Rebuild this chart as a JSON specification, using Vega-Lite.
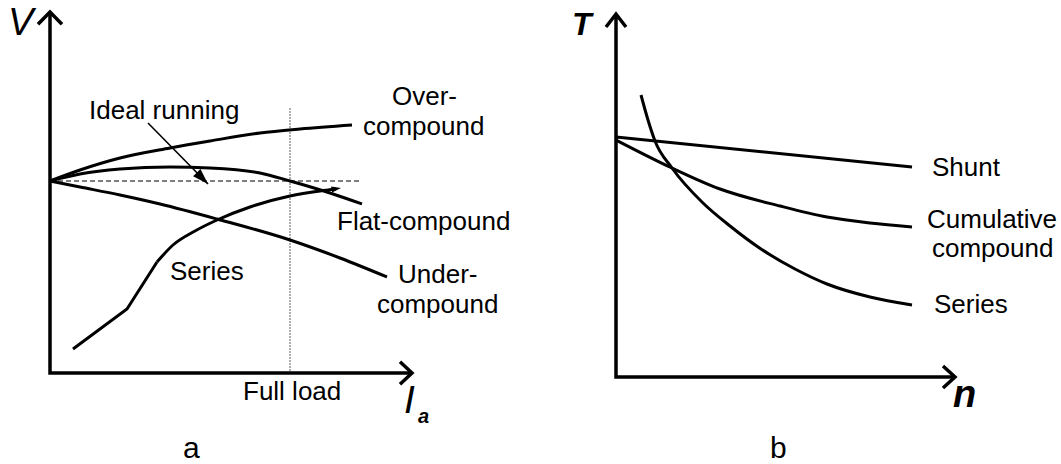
{
  "$schema": "https://vega.github.io/schema/vega-lite/v6.json",
  "background": "white",
  "padding": 0,
  "spacing": 0,
  "config": {"view": {"stroke": null}, "font": "Liberation Sans"},
  "datasets": {
    "aLines": [
      {"p": "vAxis", "i": 0, "x": 0, "y": 9.025},
      {"p": "vAxis", "i": 1, "x": 0, "y": 0},
      {"p": "vAxis", "i": 2, "x": 9.05, "y": 0},
      {"p": "vHead", "i": 0, "x": -0.3, "y": 8.72},
      {"p": "vHead", "i": 1, "x": 0, "y": 9.025},
      {"p": "vHead", "i": 2, "x": 0.3, "y": 8.72},
      {"p": "iHead", "i": 0, "x": 8.75, "y": 0.28},
      {"p": "iHead", "i": 1, "x": 9.05, "y": 0},
      {"p": "iHead", "i": 2, "x": 8.75, "y": -0.28},
      {"p": "fullLoad", "i": 0, "x": 6.0, "y": 6.625},
      {"p": "fullLoad", "i": 1, "x": 6.0, "y": 0},
      {"p": "ideal", "i": 0, "x": 0, "y": 4.8},
      {"p": "ideal", "i": 1, "x": 7.8, "y": 4.8},
      {"p": "pointer", "i": 0, "x": 2.45, "y": 6.25},
      {"p": "pointer", "i": 1, "x": 3.95, "y": 4.725},
      {"p": "over", "i": 0, "x": 0, "y": 4.8},
      {"p": "over", "i": 1, "x": 0.75, "y": 5.075},
      {"p": "over", "i": 2, "x": 1.75, "y": 5.375},
      {"p": "over", "i": 3, "x": 3.0, "y": 5.625},
      {"p": "over", "i": 4, "x": 4.0, "y": 5.8},
      {"p": "over", "i": 5, "x": 5.25, "y": 6.0},
      {"p": "over", "i": 6, "x": 6.25, "y": 6.1},
      {"p": "over", "i": 7, "x": 7.55, "y": 6.2},
      {"p": "flat", "i": 0, "x": 0, "y": 4.8},
      {"p": "flat", "i": 1, "x": 0.75, "y": 4.975},
      {"p": "flat", "i": 2, "x": 1.75, "y": 5.1},
      {"p": "flat", "i": 3, "x": 3.0, "y": 5.15},
      {"p": "flat", "i": 4, "x": 4.0, "y": 5.125},
      {"p": "flat", "i": 5, "x": 5.25, "y": 5.0},
      {"p": "flat", "i": 6, "x": 6.0, "y": 4.8},
      {"p": "flat", "i": 7, "x": 7.0, "y": 4.5},
      {"p": "flat", "i": 8, "x": 7.8, "y": 4.225},
      {"p": "under", "i": 0, "x": 0, "y": 4.8},
      {"p": "under", "i": 1, "x": 0.75, "y": 4.65},
      {"p": "under", "i": 2, "x": 1.75, "y": 4.45},
      {"p": "under", "i": 3, "x": 2.75, "y": 4.225},
      {"p": "under", "i": 4, "x": 4.175, "y": 3.85},
      {"p": "under", "i": 5, "x": 6.0, "y": 3.325},
      {"p": "under", "i": 6, "x": 7.25, "y": 2.875},
      {"p": "under", "i": 7, "x": 8.425, "y": 2.4},
      {"p": "seriesLow", "i": 0, "x": 0.575, "y": 0.6},
      {"p": "seriesLow", "i": 1, "x": 1.925, "y": 1.6},
      {"p": "seriesLow", "i": 2, "x": 2.675, "y": 2.775},
      {"p": "seriesHigh", "i": 0, "x": 2.675, "y": 2.775},
      {"p": "seriesHigh", "i": 1, "x": 3.075, "y": 3.2},
      {"p": "seriesHigh", "i": 2, "x": 3.625, "y": 3.55},
      {"p": "seriesHigh", "i": 3, "x": 4.175, "y": 3.825},
      {"p": "seriesHigh", "i": 4, "x": 5.0, "y": 4.15},
      {"p": "seriesHigh", "i": 5, "x": 6.0, "y": 4.425},
      {"p": "seriesHigh", "i": 6, "x": 6.75, "y": 4.55},
      {"p": "seriesHigh", "i": 7, "x": 7.15, "y": 4.6}
    ],
    "aHeads": [
      {"p": "pointerTip", "x": 3.95, "y": 4.725},
      {"p": "seriesTip", "x": 7.275, "y": 4.625}
    ],
    "aText": [
      {"t": "Ideal running", "x": 0.975, "y": 6.35},
      {"t": "Over-", "x": 8.55, "y": 6.7},
      {"t": "compound", "x": 7.825, "y": 5.95},
      {"t": "Flat-compound", "x": 7.175, "y": 3.575},
      {"t": "Under-", "x": 8.7, "y": 2.25},
      {"t": "compound", "x": 8.175, "y": 1.5},
      {"t": "Series", "x": 3.0, "y": 2.325},
      {"t": "Full load", "x": 4.825, "y": -0.675}
    ],
    "bLines": [
      {"p": "tAxis", "i": 0, "x": 0, "y": 9.075},
      {"p": "tAxis", "i": 1, "x": 0, "y": 0},
      {"p": "tAxis", "i": 2, "x": 8.475, "y": 0},
      {"p": "tHead", "i": 0, "x": -0.25, "y": 8.75},
      {"p": "tHead", "i": 1, "x": 0, "y": 9.075},
      {"p": "tHead", "i": 2, "x": 0.25, "y": 8.75},
      {"p": "nHead", "i": 0, "x": 8.175, "y": 0.275},
      {"p": "nHead", "i": 1, "x": 8.475, "y": 0},
      {"p": "nHead", "i": 2, "x": 8.175, "y": -0.275},
      {"p": "shunt", "i": 0, "x": 0, "y": 6.0},
      {"p": "shunt", "i": 1, "x": 7.4, "y": 5.25},
      {"p": "cumulative", "i": 0, "x": 0, "y": 5.925},
      {"p": "cumulative", "i": 1, "x": 1.4, "y": 5.225},
      {"p": "cumulative", "i": 2, "x": 2.6, "y": 4.7},
      {"p": "cumulative", "i": 3, "x": 4.1, "y": 4.275},
      {"p": "cumulative", "i": 4, "x": 5.275, "y": 4.0},
      {"p": "cumulative", "i": 5, "x": 6.35, "y": 3.85},
      {"p": "cumulative", "i": 6, "x": 7.4, "y": 3.75},
      {"p": "series", "i": 0, "x": 0.625, "y": 7.05},
      {"p": "series", "i": 1, "x": 0.8, "y": 6.425},
      {"p": "series", "i": 2, "x": 0.975, "y": 5.9},
      {"p": "series", "i": 3, "x": 1.4, "y": 5.225},
      {"p": "series", "i": 4, "x": 2.175, "y": 4.35},
      {"p": "series", "i": 5, "x": 2.85, "y": 3.775},
      {"p": "series", "i": 6, "x": 3.625, "y": 3.2},
      {"p": "series", "i": 7, "x": 4.475, "y": 2.7},
      {"p": "series", "i": 8, "x": 5.275, "y": 2.325},
      {"p": "series", "i": 9, "x": 6.35, "y": 2.0},
      {"p": "series", "i": 10, "x": 7.4, "y": 1.8}
    ],
    "bText": [
      {"t": "Shunt", "x": 7.9, "y": 5.025},
      {"t": "Cumulative", "x": 7.775, "y": 3.72},
      {"t": "compound", "x": 7.9, "y": 2.99},
      {"t": "Series", "x": 7.95, "y": 1.6}
    ]
  },
  "hconcat": [
    {
      "width": 530,
      "height": 464,
      "encoding": {
        "x": {"field": "x", "type": "quantitative", "scale": {"domain": [-1.25, 12], "nice": false, "zero": false}, "axis": null},
        "y": {"field": "y", "type": "quantitative", "scale": {"domain": [-2.275, 9.325], "nice": false, "zero": false}, "axis": null}
      },
      "layer": [
        {
          "data": {"name": "aLines"},
          "transform": [{"filter": {"field": "p", "oneOf": ["fullLoad"]}}],
          "mark": {"type": "line", "color": "#7a7a7a", "strokeWidth": 1.2, "strokeDash": [2, 1]},
          "encoding": {"detail": {"field": "p"}, "order": {"field": "i"}}
        },
        {
          "data": {"name": "aLines"},
          "transform": [{"filter": {"field": "p", "oneOf": ["ideal"]}}],
          "mark": {"type": "line", "color": "black", "strokeWidth": 1, "strokeDash": [5, 3]},
          "encoding": {"detail": {"field": "p"}, "order": {"field": "i"}}
        },
        {
          "data": {"name": "aLines"},
          "transform": [{"filter": {"field": "p", "oneOf": ["vAxis", "vHead", "iHead"]}}],
          "mark": {"type": "line", "color": "black", "strokeWidth": 3.5},
          "encoding": {"detail": {"field": "p"}, "order": {"field": "i"}}
        },
        {
          "data": {"name": "aLines"},
          "transform": [{"filter": {"field": "p", "oneOf": ["over", "flat", "under", "seriesHigh"]}}],
          "mark": {"type": "line", "color": "black", "strokeWidth": 3, "interpolate": "monotone"},
          "encoding": {"detail": {"field": "p"}, "order": {"field": "i"}}
        },
        {
          "data": {"name": "aLines"},
          "transform": [{"filter": {"field": "p", "oneOf": ["seriesLow"]}}],
          "mark": {"type": "line", "color": "black", "strokeWidth": 3},
          "encoding": {"detail": {"field": "p"}, "order": {"field": "i"}}
        },
        {
          "data": {"name": "aLines"},
          "transform": [{"filter": {"field": "p", "oneOf": ["pointer"]}}],
          "mark": {"type": "line", "color": "black", "strokeWidth": 1.6},
          "encoding": {"detail": {"field": "p"}, "order": {"field": "i"}}
        },
        {
          "data": {"name": "aHeads"},
          "transform": [{"filter": {"field": "p", "equal": "pointerTip"}}],
          "mark": {"type": "point", "shape": "M0,0L-2,-0.65L-2,0.65Z", "filled": true, "color": "black", "opacity": 1, "size": 256, "angle": 45.5}
        },
        {
          "data": {"name": "aHeads"},
          "transform": [{"filter": {"field": "p", "equal": "seriesTip"}}],
          "mark": {"type": "point", "shape": "M0,0L-2,-0.65L-2,0.65Z", "filled": true, "color": "black", "opacity": 1, "size": 90, "angle": -9}
        },
        {
          "data": {"name": "aText"},
          "mark": {"type": "text", "align": "left", "baseline": "alphabetic", "fontSize": 26, "color": "black"},
          "encoding": {"text": {"field": "t"}}
        },
        {
          "data": {"values": [{"t": "V", "x": -1.05, "y": 8.45}]},
          "mark": {"type": "text", "align": "left", "baseline": "alphabetic", "fontSize": 38, "fontStyle": "italic", "color": "black"},
          "encoding": {"text": {"field": "t"}}
        },
        {
          "data": {"values": [{"t": "I", "x": 8.85, "y": -1.0}]},
          "mark": {"type": "text", "align": "left", "baseline": "alphabetic", "fontSize": 39, "fontStyle": "italic", "color": "black"},
          "encoding": {"text": {"field": "t"}}
        },
        {
          "data": {"values": [{"t": "a", "x": 9.2, "y": -1.25}]},
          "mark": {"type": "text", "align": "left", "baseline": "alphabetic", "fontSize": 20, "fontStyle": "italic", "fontWeight": "bold", "color": "black"},
          "encoding": {"text": {"field": "t"}}
        },
        {
          "data": {"values": [{"t": "a", "x": 3.325, "y": -2.125}]},
          "mark": {"type": "text", "align": "left", "baseline": "alphabetic", "fontSize": 30, "color": "black"},
          "encoding": {"text": {"field": "t"}}
        }
      ]
    },
    {
      "width": 531,
      "height": 464,
      "encoding": {
        "x": {"field": "x", "type": "quantitative", "scale": {"domain": [-2.15, 11.125], "nice": false, "zero": false}, "axis": null},
        "y": {"field": "y", "type": "quantitative", "scale": {"domain": [-2.175, 9.425], "nice": false, "zero": false}, "axis": null}
      },
      "layer": [
        {
          "data": {"name": "bLines"},
          "transform": [{"filter": {"field": "p", "oneOf": ["tAxis", "tHead", "nHead"]}}],
          "mark": {"type": "line", "color": "black", "strokeWidth": 3.5},
          "encoding": {"detail": {"field": "p"}, "order": {"field": "i"}}
        },
        {
          "data": {"name": "bLines"},
          "transform": [{"filter": {"field": "p", "oneOf": ["shunt", "cumulative", "series"]}}],
          "mark": {"type": "line", "color": "black", "strokeWidth": 3, "interpolate": "monotone"},
          "encoding": {"detail": {"field": "p"}, "order": {"field": "i"}}
        },
        {
          "data": {"name": "bText"},
          "mark": {"type": "text", "align": "left", "baseline": "alphabetic", "fontSize": 26, "color": "black"},
          "encoding": {"text": {"field": "t"}}
        },
        {
          "data": {"values": [{"t": "T", "x": -1.1, "y": 8.55}]},
          "mark": {"type": "text", "align": "left", "baseline": "alphabetic", "fontSize": 32, "fontStyle": "italic", "fontWeight": "bold", "color": "black"},
          "encoding": {"text": {"field": "t"}}
        },
        {
          "data": {"values": [{"t": "n", "x": 8.425, "y": -0.75}]},
          "mark": {"type": "text", "align": "left", "baseline": "alphabetic", "fontSize": 38, "fontStyle": "italic", "fontWeight": "bold", "color": "black"},
          "encoding": {"text": {"field": "t"}}
        },
        {
          "data": {"values": [{"t": "b", "x": 3.85, "y": -2.025}]},
          "mark": {"type": "text", "align": "left", "baseline": "alphabetic", "fontSize": 30, "color": "black"},
          "encoding": {"text": {"field": "t"}}
        }
      ]
    }
  ]
}
